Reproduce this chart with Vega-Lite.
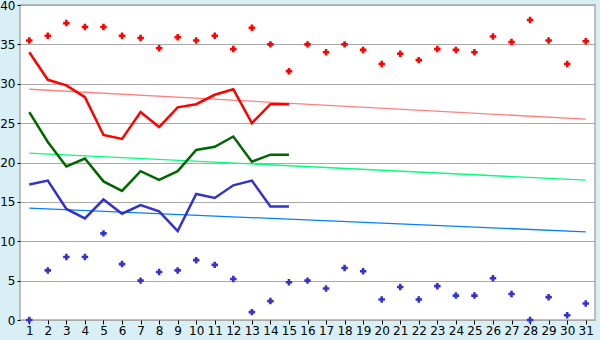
{
  "$schema": "https://vega.github.io/schema/vega-lite/v6.json",
  "width": 575,
  "height": 315,
  "autosize": {"type": "none"},
  "padding": {"left": 20, "top": 5, "right": 5, "bottom": 20},
  "background": "#d9eff6",
  "config": {
    "view": {"fill": "white", "stroke": "#aaaaaa", "strokeWidth": 1.5},
    "axis": {"labelFont": "DejaVu Sans", "labelFontSize": 12, "labelColor": "#000000", "tickColor": "#000000", "domain": false, "title": null}
  },
  "datasets": {
    "pts": [
      {"day": 1, "series": "tmax", "value": 35.5}, {"day": 2, "series": "tmax", "value": 36.1}, {"day": 3, "series": "tmax", "value": 37.7}, {"day": 4, "series": "tmax", "value": 37.2}, {"day": 5, "series": "tmax", "value": 37.2}, {"day": 6, "series": "tmax", "value": 36.1}, {"day": 7, "series": "tmax", "value": 35.8}, {"day": 8, "series": "tmax", "value": 34.5}, {"day": 9, "series": "tmax", "value": 35.9}, {"day": 10, "series": "tmax", "value": 35.5}, {"day": 11, "series": "tmax", "value": 36.1}, {"day": 12, "series": "tmax", "value": 34.4}, {"day": 13, "series": "tmax", "value": 37.1}, {"day": 14, "series": "tmax", "value": 35.0}, {"day": 15, "series": "tmax", "value": 31.6}, {"day": 16, "series": "tmax", "value": 35.0}, {"day": 17, "series": "tmax", "value": 34.0}, {"day": 18, "series": "tmax", "value": 35.0}, {"day": 19, "series": "tmax", "value": 34.3}, {"day": 20, "series": "tmax", "value": 32.5}, {"day": 21, "series": "tmax", "value": 33.8}, {"day": 22, "series": "tmax", "value": 33.0}, {"day": 23, "series": "tmax", "value": 34.4}, {"day": 24, "series": "tmax", "value": 34.3}, {"day": 25, "series": "tmax", "value": 34.0}, {"day": 26, "series": "tmax", "value": 36.0}, {"day": 27, "series": "tmax", "value": 35.3}, {"day": 28, "series": "tmax", "value": 38.1}, {"day": 29, "series": "tmax", "value": 35.5}, {"day": 30, "series": "tmax", "value": 32.5}, {"day": 31, "series": "tmax", "value": 35.4},
      {"day": 1, "series": "tmin", "value": 0}, {"day": 2, "series": "tmin", "value": 6.3}, {"day": 3, "series": "tmin", "value": 8.0}, {"day": 4, "series": "tmin", "value": 8.0}, {"day": 5, "series": "tmin", "value": 11.0}, {"day": 6, "series": "tmin", "value": 7.1}, {"day": 7, "series": "tmin", "value": 5.0}, {"day": 8, "series": "tmin", "value": 6.1}, {"day": 9, "series": "tmin", "value": 6.3}, {"day": 10, "series": "tmin", "value": 7.6}, {"day": 11, "series": "tmin", "value": 7.0}, {"day": 12, "series": "tmin", "value": 5.2}, {"day": 13, "series": "tmin", "value": 1.0}, {"day": 14, "series": "tmin", "value": 2.4}, {"day": 15, "series": "tmin", "value": 4.8}, {"day": 16, "series": "tmin", "value": 5.0}, {"day": 17, "series": "tmin", "value": 4.0}, {"day": 18, "series": "tmin", "value": 6.6}, {"day": 19, "series": "tmin", "value": 6.2}, {"day": 20, "series": "tmin", "value": 2.6}, {"day": 21, "series": "tmin", "value": 4.2}, {"day": 22, "series": "tmin", "value": 2.6}, {"day": 23, "series": "tmin", "value": 4.3}, {"day": 24, "series": "tmin", "value": 3.1}, {"day": 25, "series": "tmin", "value": 3.1}, {"day": 26, "series": "tmin", "value": 5.3}, {"day": 27, "series": "tmin", "value": 3.3}, {"day": 28, "series": "tmin", "value": 0}, {"day": 29, "series": "tmin", "value": 2.9}, {"day": 30, "series": "tmin", "value": 0.6}, {"day": 31, "series": "tmin", "value": 2.1}
    ],
    "lines": [
      {"day": 1, "series": "avgmax", "value": 34.0}, {"day": 2, "series": "avgmax", "value": 30.5}, {"day": 3, "series": "avgmax", "value": 29.8}, {"day": 4, "series": "avgmax", "value": 28.3}, {"day": 5, "series": "avgmax", "value": 23.5}, {"day": 6, "series": "avgmax", "value": 23.0}, {"day": 7, "series": "avgmax", "value": 26.4}, {"day": 8, "series": "avgmax", "value": 24.5}, {"day": 9, "series": "avgmax", "value": 27.0}, {"day": 10, "series": "avgmax", "value": 27.4}, {"day": 11, "series": "avgmax", "value": 28.6}, {"day": 12, "series": "avgmax", "value": 29.3}, {"day": 13, "series": "avgmax", "value": 25.0}, {"day": 14, "series": "avgmax", "value": 27.4}, {"day": 15, "series": "avgmax", "value": 27.4},
      {"day": 1, "series": "avg", "value": 26.4}, {"day": 2, "series": "avg", "value": 22.6}, {"day": 3, "series": "avg", "value": 19.5}, {"day": 4, "series": "avg", "value": 20.5}, {"day": 5, "series": "avg", "value": 17.6}, {"day": 6, "series": "avg", "value": 16.4}, {"day": 7, "series": "avg", "value": 18.9}, {"day": 8, "series": "avg", "value": 17.8}, {"day": 9, "series": "avg", "value": 18.9}, {"day": 10, "series": "avg", "value": 21.6}, {"day": 11, "series": "avg", "value": 22.0}, {"day": 12, "series": "avg", "value": 23.3}, {"day": 13, "series": "avg", "value": 20.1}, {"day": 14, "series": "avg", "value": 21.0}, {"day": 15, "series": "avg", "value": 21.0},
      {"day": 1, "series": "avgmin", "value": 17.2}, {"day": 2, "series": "avgmin", "value": 17.7}, {"day": 3, "series": "avgmin", "value": 14.1}, {"day": 4, "series": "avgmin", "value": 12.9}, {"day": 5, "series": "avgmin", "value": 15.3}, {"day": 6, "series": "avgmin", "value": 13.5}, {"day": 7, "series": "avgmin", "value": 14.6}, {"day": 8, "series": "avgmin", "value": 13.8}, {"day": 9, "series": "avgmin", "value": 11.3}, {"day": 10, "series": "avgmin", "value": 16.0}, {"day": 11, "series": "avgmin", "value": 15.5}, {"day": 12, "series": "avgmin", "value": 17.1}, {"day": 13, "series": "avgmin", "value": 17.7}, {"day": 14, "series": "avgmin", "value": 14.4}, {"day": 15, "series": "avgmin", "value": 14.4}
    ],
    "trend": [
      {"day": 1, "series": "trmax", "value": 29.3}, {"day": 31, "series": "trmax", "value": 25.5},
      {"day": 1, "series": "travg", "value": 21.2}, {"day": 31, "series": "travg", "value": 17.75},
      {"day": 1, "series": "trmin", "value": 14.2}, {"day": 31, "series": "trmin", "value": 11.2}
    ]
  },
  "encoding": {
    "x": {"field": "day", "type": "quantitative", "scale": {"domain": [0.5, 31.5], "nice": false, "zero": false},
          "axis": {"values": [1,2,3,4,5,6,7,8,9,10,11,12,13,14,15,16,17,18,19,20,21,22,23,24,25,26,27,28,29,30,31], "grid": false, "tickSize": 4, "labelPadding": 1, "labelFlush": false, "labelOverlap": false}},
    "y": {"field": "value", "type": "quantitative", "scale": {"domain": [0, 40], "nice": false},
          "axis": {"values": [0,5,10,15,20,25,30,35,40], "grid": true, "gridColor": "#aaaaaa", "gridWidth": 1.2, "tickSize": 3, "labelPadding": 2, "labelFlush": false}},
    "color": {"field": "series", "type": "nominal", "legend": null,
              "scale": {"domain": ["tmax", "tmin", "avgmax", "avg", "avgmin", "trmax", "travg", "trmin"],
                        "range": ["#ff0000", "#3333cc", "#ff0000", "#006600", "#3333cc", "#ff8080", "#00ff80", "#0080ff"]}}
  },
  "layer": [
    {"data": {"name": "trend"}, "mark": {"type": "line", "strokeWidth": 1.3}, "encoding": {"detail": {"field": "series"}}},
    {"data": {"name": "lines"}, "mark": {"type": "line", "strokeWidth": 2.5}, "encoding": {"detail": {"field": "series"}}},
    {"data": {"name": "pts"}, "mark": {"type": "point", "shape": "cross", "filled": true, "size": 42, "opacity": 1, "clip": false}}
  ]
}
